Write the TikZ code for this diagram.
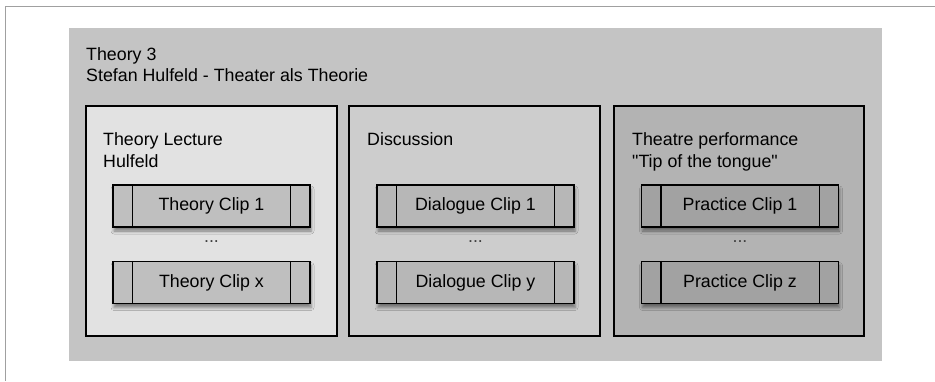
\documentclass[tikz,border=0pt]{standalone}
\usepackage{fontspec}
\setmainfont{Liberation Sans}[Ligatures=TeXOff]
\usetikzlibrary{shadows.blur}
\definecolor{outerfill}{HTML}{C4C4C4}
\definecolor{pafill}{HTML}{E2E2E2}
\definecolor{pbfill}{HTML}{CDCDCD}
\definecolor{pcfill}{HTML}{B3B3B3}
\definecolor{cafill}{HTML}{BFBFBF}
\definecolor{cbfill}{HTML}{B7B7B7}
\definecolor{ccfill}{HTML}{A2A2A2}
\definecolor{framegray}{HTML}{A0A0A0}
\tikzset{
  txt/.style={inner sep=0pt, anchor=base west, font=\fontsize{17.8}{21}\selectfont, text=black},
  panel/.style={draw=black, line width=1.3pt, minimum width=251pt, minimum height=230pt, inner sep=0pt},
  clipbox/.style={draw=black, line width=1.4pt, minimum width=197pt, minimum height=42pt, inner sep=0pt,
     font=\fontsize{17.8}{21}\selectfont, text=black,
     blur shadow={shadow xshift=1pt, shadow yshift=-4pt, shadow blur radius=3pt, shadow opacity=45}},
  dots/.style={inner sep=0pt, font=\fontsize{17.8}{21}\selectfont, text=black!75},
}
\newcommand{\clipsides}[1]{%
  \draw[line width=1.4pt] ([xshift=20pt]#1.north west) -- ([xshift=20pt]#1.south west);
  \draw[line width=1.4pt] ([xshift=-20pt]#1.north east) -- ([xshift=-20pt]#1.south east);
}
\begin{document}
\begin{tikzpicture}[x=1pt,y=-1pt]
\useasboundingbox (0,0) rectangle (935,381);
\fill[white] (0,0) rectangle (935,381);
% frame lines
\coordinate (ftl) at (5.5,6.5);
\coordinate (ftr) at (935,6.5);
\coordinate (fbl) at (5.5,381);
\draw[framegray, line width=1.5pt] (ftr) -- (ftl) -- (fbl);
% outer box
\node[fill=outerfill, minimum width=813pt, minimum height=333pt, inner sep=0pt] (outer) at (475.5,194.5) {};
\node[txt] (t1) at (86,60) {Theory 3};
\node[txt] (t2) at (86,81) {Stefan Hulfeld - Theater als Theorie};
% panels
\node[panel, fill=pafill] (pa) at (211.5,221) {};
\node[panel, fill=pbfill] (pb) at (474.5,221) {};
\node[panel, fill=pcfill, minimum width=250pt] (pc) at (739,221) {};
\node[txt] (pat1) at (103,145) {Theory Lecture};
\node[txt] (pat2) at (103,167) {Hulfeld};
\node[txt] (pbt1) at (367,145) {Discussion};
\node[txt] (pct1) at (632,145) {Theatre performance};
\node[txt] (pct2) at (632,167) {"Tip of the tongue"};
% clips
\node[clipbox, fill=cafill] (ca1) at (211.5,206) {Theory Clip 1};
\node[clipbox, fill=cafill] (ca2) at (211.5,282.5) {Theory Clip x};
\node[clipbox, fill=cbfill] (cb1) at (475.5,206) {Dialogue Clip 1};
\node[clipbox, fill=cbfill] (cb2) at (475.5,282.5) {Dialogue Clip y};
\node[clipbox, fill=ccfill] (cc1) at (740,206) {Practice Clip 1};
\node[clipbox, fill=ccfill] (cc2) at (740,282.5) {Practice Clip z};
\clipsides{ca1}\clipsides{ca2}
\clipsides{cb1}\clipsides{cb2}
\clipsides{cc1}\clipsides{cc2}
% dots
\node[dots] (da) at (211.5,242) {...};
\node[dots] (db) at (475.5,242) {...};
\node[dots] (dc) at (740,242) {...};
\end{tikzpicture}
\end{document}
